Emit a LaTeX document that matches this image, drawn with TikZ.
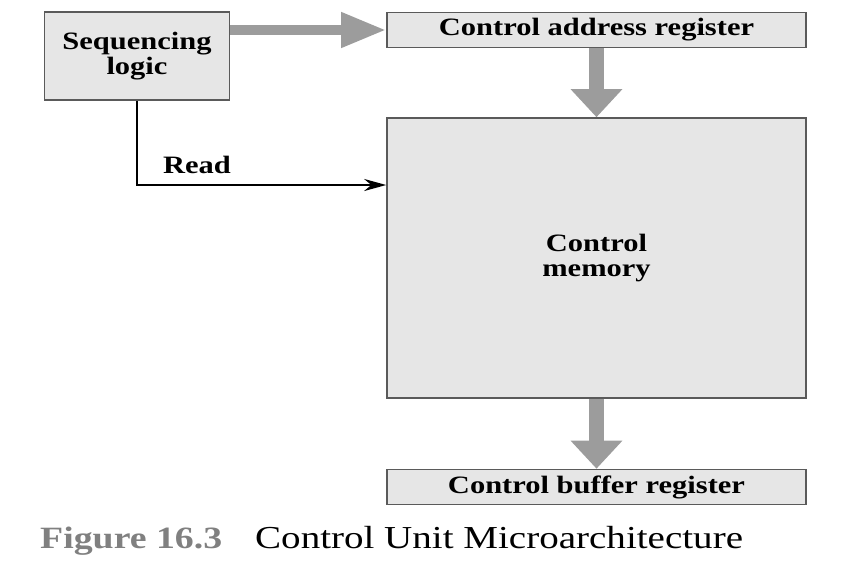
\documentclass[tikz,border=0pt]{standalone}
\usepackage{fontspec}
\setmainfont[FakeStretch=1.22]{Liberation Serif}
\usetikzlibrary{arrows.meta}

\definecolor{boxfill}{HTML}{E6E6E6}
\definecolor{boxline}{HTML}{5A5A5A}
\definecolor{fatarrow}{HTML}{9C9C9C}
\definecolor{figgray}{HTML}{808080}

\tikzset{
	blk/.style={draw=boxline, line width=1.6pt, fill=boxfill, inner sep=0pt, align=center,
		font=\fontsize{25}{25}\selectfont\bfseries},
	fatflow/.style={draw=fatarrow, line width=15pt, -{Triangle[length=28pt,width=50pt]}}
}

\begin{document}
\begin{tikzpicture}[x=1pt,y=-1pt]

	    \useasboundingbox (0,0) rectangle (865,563);

	    \node[blk, minimum width=185pt, minimum height=88pt] (seq) at (137,56) {Sequencing\\logic};
	    \node[blk, minimum width=419pt, minimum height=35pt] (car) at (596.5,30) {Control address register};
	    \node[blk, minimum width=419pt, minimum height=280pt] (mem) at (596.5,258) {Control\\memory};
	    \node[blk, minimum width=419pt, minimum height=35pt] (cbr) at (596.5,487) {Control buffer register};

	    \draw[draw=fatarrow, line width=10pt, -{Triangle[length=45pt,width=33pt]}] (car.west -| seq.east) -- (car.west);
	    \draw[fatflow] (car.south) -- (mem.north);
	    \draw[fatflow] (mem.south) -- (cbr.north);

	    \coordinate (rd) at (mem.west |- 0,185);
	    \draw[line width=2.2pt, -{Stealth[length=22pt,width=12pt]}] (seq.south) |- (rd);
	    \node[font=\fontsize{25}{25}\selectfont\bfseries] (readlbl) at (197,165) {Read};

	    \node[anchor=base west, inner sep=0pt, text=figgray, font=\fontsize{31}{31}\selectfont\bfseries] (fig) at (40,548) {Figure 16.3};
	    \node[anchor=base west, inner sep=0pt, font=\fontsize{32}{32}\selectfont] (cap) at (255,548) {Control Unit Microarchitecture};

\end{tikzpicture}
\end{document}
